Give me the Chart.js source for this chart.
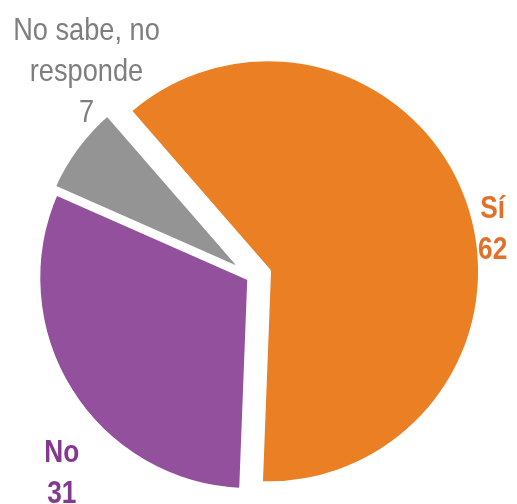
<!DOCTYPE html>
<html>
<head>
<meta charset="utf-8">
<script src="https://cdn.jsdelivr.net/npm/chart.js@4"></script>
<style>
  html, body { margin: 0; padding: 0; background: #fff; }
  #wrap { width: 517px; height: 504px; }
</style>
</head>
<body>
<div id="wrap"><canvas id="chart" width="517" height="504"></canvas></div>
<script>
// Data
const labels = ['Sí', 'No', 'No sabe, no responde'];
const labelLines = [['Sí'], ['No'], ['No sabe, no', 'responde']];
const values = [62, 31, 7];

// Colors
const fillColors = ['#EA7F24', '#93509D', '#949494'];
const textColors = ['#E0702A', '#83398F', '#7E7E7E'];
const textWeights = ['bold', 'bold', 'normal'];
// narrow look: Liberation Sans squeezed horizontally
const textSqueeze = [0.82, 0.82, 0.85];

// How far each slice is pulled out from the centre (px)
const explode = [17, 2, 6];

// Label placement relative to each slice (angle shift in deg, distance past rim)
const labelShift = [11.1, -15.3, 13.8];
const labelDist = [14, 65, 38];

const FONT = "'Liberation Sans', Arial, sans-serif";
const LINE_H = 41;

// move each arc outwards along its mid angle (keeps radius unchanged)
const explodeSlices = {
  id: 'explodeSlices',
  afterDatasetsUpdate(chart) {
    const meta = chart.getDatasetMeta(0);
    meta.data.forEach((arc, i) => {
      const mid = (arc.startAngle + arc.endAngle) / 2;
      arc.x += Math.cos(mid) * explode[i];
      arc.y += Math.sin(mid) * explode[i];
    });
  }
};

const sliceLabels = {
  id: 'sliceLabels',
  afterDatasetsDraw(chart) {
    const ctx = chart.ctx;
    const meta = chart.getDatasetMeta(0);
    meta.data.forEach((arc, i) => {
      const p = arc.getProps(['x', 'y', 'startAngle', 'endAngle', 'outerRadius'], true);
      const mid = (p.startAngle + p.endAngle) / 2 + labelShift[i] * Math.PI / 180;
      const r = p.outerRadius + labelDist[i];
      const cx = p.x + Math.cos(mid) * r;
      const cy = p.y + Math.sin(mid) * r;
      const lines = labelLines[i].concat([String(values[i])]);
      ctx.save();
      ctx.translate(cx, cy);
      ctx.scale(textSqueeze[i], 1);
      ctx.fillStyle = textColors[i];
      ctx.font = textWeights[i] + ' 32px ' + FONT;
      ctx.textAlign = 'center';
      ctx.textBaseline = 'alphabetic';
      const top = -(lines.length - 1) * LINE_H / 2;
      lines.forEach((t, k) => ctx.fillText(t, 0, top + k * LINE_H));
      ctx.restore();
    });
  }
};

new Chart(document.getElementById('chart'), {
  type: 'pie',
  data: {
    labels,
    datasets: [{
      data: values,
      backgroundColor: fillColors,
      borderColor: '#ffffff',
      borderWidth: 6,
      clip: false,
    }],
  },
  options: {
    responsive: false,
    animation: false,
    rotation: -41,
    radius: 213,
    layout: { padding: { left: 0, right: 13, top: 50, bottom: 0 } },
    plugins: {
      legend: { display: false },
      tooltip: { enabled: false },
    },
  },
  plugins: [explodeSlices, sliceLabels],
});
</script>
</body>
</html>
